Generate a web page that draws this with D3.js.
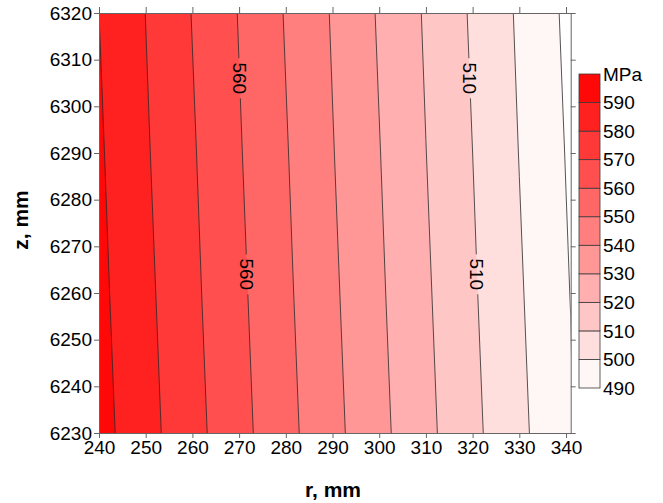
<!DOCTYPE html>
<html>
<head>
<meta charset="utf-8">
<script src="https://cdn.jsdelivr.net/npm/d3@7"></script>
<style>
  body { margin: 0; background: #fff; }
  svg { font-family: "Liberation Sans", Arial, sans-serif; }
  .tick text { font-size: 19px; fill: #000; }
  .domain, .tick line { stroke: #666; }
</style>
</head>
<body>
<div id="chart"></div>
<script>
(function() {
'use strict';

// grid: r (mm) columns, z (mm) rows, stress in MPa
const rValues = [240, 250, 260, 270, 280, 290, 300, 310, 320, 330, 340, 341];
const zValues = [6230, 6260, 6290, 6320];
const stressZ6230 = [593.5, 583.4, 573.2, 563.1, 552.9, 542.8, 532.6, 522.5, 512.3, 502.2, 492.0, 491.0];
const stressZ6260 = [592.3, 582.2, 572.0, 561.9, 551.7, 541.6, 531.4, 521.3, 511.1, 501.0, 490.8, 489.8];
const stressZ6290 = [591.2, 581.0, 570.9, 560.7, 550.6, 540.4, 530.3, 520.1, 510.0, 499.8, 489.7, 488.7];
const stressZ6320 = [590.0, 579.9, 569.7, 559.6, 549.4, 539.3, 529.1, 519.0, 508.8, 498.7, 488.5, 487.5];

const levels = [490, 500, 510, 520, 530, 540, 550, 560, 570, 580, 590];
const rTicks = [240, 250, 260, 270, 280, 290, 300, 310, 320, 330, 340];
const zTicks = [6230, 6240, 6250, 6260, 6270, 6280, 6290, 6300, 6310, 6320];

// inline contour labels
const labelLevels = [560, 560, 510, 510];
const labelZ = [6306, 6264, 6306, 6264];

const width = 663;
const height = 503;
const left = 99, right = 570.7, top = 13, bottom = 433;

const x = d3.scaleLinear().domain([240, 341]).range([left, right]);
const y = d3.scaleLinear().domain([6230, 6320]).range([bottom, top]);
const fill = d3.scaleLinear().domain([595, 495]).range(['#ff0808', '#fff6f6']);

// grid index -> data coordinate (d3.contours puts cell i at i + 0.5)
const colToR = d3.scaleLinear().domain(rValues.map((d, i) => i + 0.5)).range(rValues);
const rowToZ = d3.scaleLinear().domain(zValues.map((d, i) => i + 0.5)).range(zValues);

const grid = [].concat(stressZ6230, stressZ6260, stressZ6290, stressZ6320);

const contours = d3.contours()
  .size([rValues.length, zValues.length])
  .smooth(true)
  .thresholds(levels)(grid);

const toPixel = (px, py) => [x(colToR(px)), y(rowToZ(py))];
const projection = d3.geoTransform({
  point: function(px, py) {
    const p = toPixel(px, py);
    this.stream.point(p[0], p[1]);
  }
});
const path = d3.geoPath(projection);

const svg = d3.select('#chart')
  .append('svg')
  .attr('width', width)
  .attr('height', height);

const defs = svg.append('defs');
defs.append('clipPath')
  .attr('id', 'plotClip')
  .append('rect')
  .attr('x', left)
  .attr('y', top)
  .attr('width', right - left)
  .attr('height', bottom - top);

// filled bands
svg.append('g')
  .attr('clip-path', 'url(#plotClip)')
  .selectAll('path')
  .data(contours)
  .enter()
  .append('path')
  .attr('d', path)
  .attr('fill', d => fill(d.value + 5))
  .attr('stroke', 'none');

// find where a contour crosses a given z
function crossingX(level, z) {
  const c = contours.find(d => d.value === level);
  const py = y(z);
  let found = null;
  c.coordinates.forEach(poly => poly.forEach(ring => {
    for (let i = 1; i < ring.length; i++) {
      const a = toPixel(ring[i - 1][0], ring[i - 1][1]);
      const b = toPixel(ring[i][0], ring[i][1]);
      if (a[1] === b[1]) continue;
      if ((a[1] - py) * (b[1] - py) <= 0) {
        const t = (py - a[1]) / (b[1] - a[1]);
        const px = a[0] + t * (b[0] - a[0]);
        if (px > left + 1 && px < right - 1 && found === null) found = px;
      }
    }
  }));
  return found;
}

const mask = defs.append('mask').attr('id', 'labelMask');
mask.append('rect')
  .attr('x', 0).attr('y', 0)
  .attr('width', width).attr('height', height)
  .attr('fill', '#fff');

const lineGroup = svg.append('g')
  .attr('clip-path', 'url(#plotClip)')
  .append('g')
  .attr('mask', 'url(#labelMask)');

lineGroup.selectAll('path')
  .data(contours)
  .enter()
  .append('path')
  .attr('d', path)
  .attr('fill', 'none')
  .attr('stroke', '#2a2a2a')
  .attr('stroke-width', 0.8);

const labelGroup = svg.append('g');
labelLevels.forEach((level, i) => {
  const lx = crossingX(level, labelZ[i]);
  const ly = y(labelZ[i]);
  labelGroup.append('text')
    .attr('transform', 'translate(' + lx + ',' + ly + ') rotate(90)')
    .attr('text-anchor', 'middle')
    .attr('dy', '0.35em')
    .style('font-size', '19px')
    .text(level);
  mask.append('rect')
    .attr('x', lx - 9)
    .attr('y', ly - 20)
    .attr('width', 18)
    .attr('height', 40)
    .attr('fill', '#000');
});

// frame with ticks on all four sides
svg.append('g')
  .attr('transform', 'translate(0,' + bottom + ')')
  .call(d3.axisBottom(x).tickValues(rTicks).tickSizeInner(5).tickSizeOuter(0).tickPadding(3));
svg.append('g')
  .attr('transform', 'translate(' + left + ',0)')
  .call(d3.axisLeft(y).tickValues(zTicks).tickFormat(d3.format('d'))
    .tickSizeInner(5).tickSizeOuter(0).tickPadding(2));
svg.append('g')
  .attr('transform', 'translate(0,' + top + ')')
  .call(d3.axisTop(x).tickValues(rTicks).tickSizeInner(6).tickSizeOuter(0).tickFormat(''));
svg.append('g')
  .attr('transform', 'translate(' + right + ',0)')
  .call(d3.axisRight(y).tickValues(zTicks).tickSizeInner(5).tickSizeOuter(0).tickFormat(''));

svg.append('text')
  .attr('x', 333)
  .attr('y', 497)
  .attr('text-anchor', 'middle')
  .style('font-size', '21px')
  .style('font-weight', 'bold')
  .text('r, mm');

svg.append('text')
  .attr('transform', 'translate(28,' + 220 + ') rotate(-90)')
  .attr('text-anchor', 'middle')
  .style('font-size', '21px')
  .style('font-weight', 'bold')
  .text('z, mm');

// colour bar
const legendLevels = levels.concat([600]);
const ly = d3.scaleLinear().domain([490, 600]).range([388, 74]);
const legend = svg.append('g');
legend.selectAll('rect')
  .data(levels)
  .enter()
  .append('rect')
  .attr('x', 579)
  .attr('y', d => ly(d + 10))
  .attr('width', 21)
  .attr('height', d => ly(d) - ly(d + 10))
  .attr('fill', d => fill(d + 5))
  .attr('stroke', '#3a3a3a')
  .attr('stroke-width', 0.8);

legend.selectAll('text')
  .data(legendLevels)
  .enter()
  .append('text')
  .attr('x', 603)
  .attr('y', d => ly(d))
  .attr('dy', '0.35em')
  .style('font-size', '19px')
  .text(d => d === 600 ? 'MPa' : d);

})();
</script>
</body>
</html>
